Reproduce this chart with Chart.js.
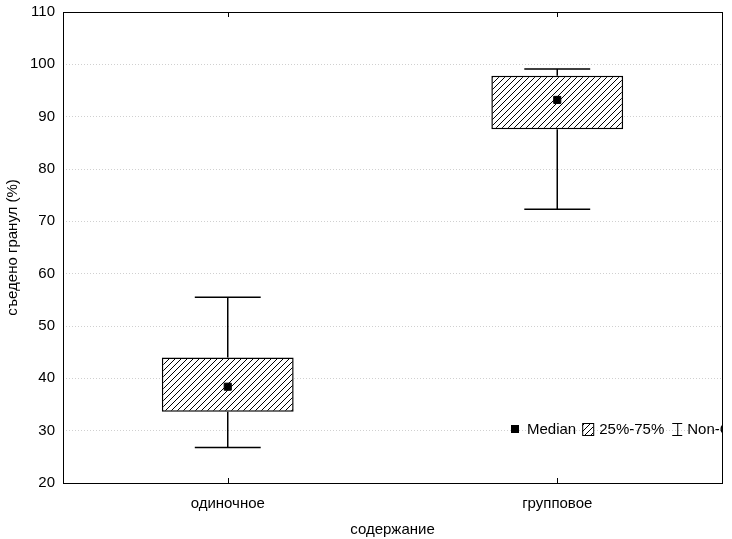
<!DOCTYPE html>
<html>
<head>
<meta charset="utf-8">
<script src="https://cdn.jsdelivr.net/npm/chart.js@4"></script>
<style>
  body { margin: 0; background: #fff; }
  #wrap { width: 732px; height: 539px; }
</style>
</head>
<body>
<div id="wrap"><canvas id="boxChart" width="732" height="539"></canvas></div>
<script>
const categories = ['одиночное', 'групповое'];
const medians = [38.4, 93.2];
const q1 = [33.6, 87.6];
const q3 = [44.0, 97.8];
const minVals = [26.8, 72.3];
const maxVals = [55.5, 99.1];
const legendLabels = ['Median', '25%-75%', 'Non-Outlier Range'];

const font = 'Liberation Sans, Arial, sans-serif';

// hatch pattern "////"
const pc = document.createElement('canvas');
pc.width = 6; pc.height = 6;
const pctx = pc.getContext('2d');
pctx.fillStyle = '#fff';
pctx.fillRect(0, 0, 6, 6);
pctx.strokeStyle = '#000';
pctx.lineWidth = 1;
pctx.beginPath();
pctx.moveTo(0, 6); pctx.lineTo(6, 0);
pctx.moveTo(-1, 1); pctx.lineTo(1, -1);
pctx.moveTo(5, 7); pctx.lineTo(7, 5);
pctx.stroke();

let ctx = document.getElementById('boxChart').getContext('2d');
const hatch = ctx.createPattern(pc, 'repeat');

const whiskers = {
  id: 'whiskers',
  beforeDatasetsDraw(chart) {
    const c = chart.ctx;
    const xs = chart.scales.x, ys = chart.scales.y;
    const bars = chart.getDatasetMeta(1).data;
    c.save();
    c.strokeStyle = '#000';
    c.lineWidth = 1.5;
    categories.forEach((cat, i) => {
      const x = xs.getPixelForValue(i);
      const half = bars[i].width / 4;
      c.beginPath();
      c.moveTo(x, ys.getPixelForValue(maxVals[i]));
      c.lineTo(x, ys.getPixelForValue(q3[i]));
      c.moveTo(x, ys.getPixelForValue(q1[i]));
      c.lineTo(x, ys.getPixelForValue(minVals[i]));
      c.moveTo(x - half, ys.getPixelForValue(maxVals[i]));
      c.lineTo(x + half, ys.getPixelForValue(maxVals[i]));
      c.moveTo(x - half, ys.getPixelForValue(minVals[i]));
      c.lineTo(x + half, ys.getPixelForValue(minVals[i]));
      c.stroke();
    });
    c.restore();
  }
};

const frame = {
  id: 'frame',
  afterDraw(chart) {
    const c = chart.ctx;
    const a = chart.chartArea;
    const xs = chart.scales.x;
    c.save();
    c.strokeStyle = '#000';
    c.lineWidth = 1;
    c.strokeRect(Math.round(a.left) + 0.5, Math.round(a.top) + 0.5,
      Math.round(a.right - a.left), Math.round(a.bottom - a.top));
    c.beginPath();
    categories.forEach((cat, i) => {
      const x = Math.round(xs.getPixelForValue(i)) + 0.5;
      c.moveTo(x, a.top); c.lineTo(x, a.top + 5);
      c.moveTo(x, a.bottom); c.lineTo(x, a.bottom - 5);
    });
    c.stroke();

    // legend, clipped to plot area
    c.beginPath();
    c.rect(a.left, a.top, a.right - a.left, a.bottom - a.top);
    c.clip();
    c.font = '15px ' + font;
    c.fillStyle = '#000';
    c.textBaseline = 'middle';
    const y = 430;
    let x = 511;
    c.fillRect(x, y - 5, 8, 8);
    x += 16;
    c.fillText(legendLabels[0], x, y);
    x += c.measureText(legendLabels[0]).width + 6;
    c.fillStyle = hatch;
    c.fillRect(x, y - 7, 11, 12);
    c.strokeRect(x + 0.5, y - 6.5, 11, 12);
    c.fillStyle = '#000';
    x += 17;
    c.fillText(legendLabels[1], x, y);
    x += c.measureText(legendLabels[1]).width + 8;
    c.beginPath();
    c.moveTo(x, y - 6.5); c.lineTo(x + 10, y - 6.5);
    c.moveTo(x + 5.5, y - 6.5); c.lineTo(x + 5.5, y + 5.5);
    c.moveTo(x, y + 5.5); c.lineTo(x + 10, y + 5.5);
    c.stroke();
    x += 15;
    c.fillText(legendLabels[2], x, y);
    c.restore();
  }
};

let chart = new Chart(ctx, {
  type: 'bar',
  data: {
    labels: categories,
    datasets: [{
      type: 'line',
      label: 'Median',
      data: medians,
      order: 0,
      showLine: false,
      pointStyle: 'rect',
      pointRadius: 5,
      backgroundColor: '#000',
      borderColor: '#000',
      borderWidth: 1
    }, {
      label: '25%-75%',
      data: categories.map((c, i) => [q1[i], q3[i]]),
      order: 1,
      backgroundColor: hatch,
      borderColor: '#000',
      borderWidth: 1.5,
      borderSkipped: false,
      barPercentage: 0.4,
      categoryPercentage: 1
    }]
  },
  options: {
    responsive: false,
    animation: false,
    layout: { padding: { top: 12, right: 10, left: 0, bottom: 0 } },
    plugins: { legend: { display: false }, tooltip: { enabled: false } },
    scales: {
      x: {
        grid: { display: false },
        border: { display: false },
        ticks: { color: '#000', font: { family: font, size: 15 }, padding: 4 },
        title: { display: true, text: 'содержание', color: '#000', font: { family: font, size: 15 }, padding: { top: 0, bottom: 0 } },
        afterFit(scale) { scale.height = 56; scale.paddingLeft = 0; scale.paddingRight = 0; }
      },
      y: {
        min: 20,
        max: 110,
        ticks: { stepSize: 10, color: '#000', font: { family: font, size: 15 }, padding: 8 },
        grid: { color: '#d0d0d0', lineWidth: 1, drawTicks: false },
        border: { display: false, dash: [1, 2] },
        title: { display: true, text: 'съедено гранул (%)', color: '#000', font: { family: font, size: 15 }, padding: { bottom: 4 } },
        afterFit(scale) { scale.width = 63; scale.paddingTop = 0; scale.paddingBottom = 0; }
      }
    }
  },
  plugins: [whiskers, frame]
});
</script>
</body>
</html>
